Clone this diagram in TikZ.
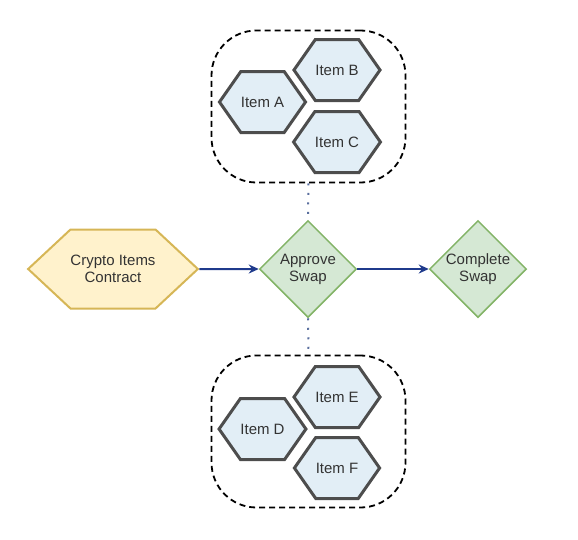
\documentclass[tikz,border=0pt]{standalone}
\usepackage{fontspec}
\setmainfont{Liberation Sans}
\usepackage{xcolor}
\usepackage{tikz}
\usetikzlibrary{arrows.meta,positioning,shapes.geometric,shapes.symbols}

\definecolor{contractfill}{HTML}{FFF2CC}
\definecolor{contractline}{HTML}{D6B656}
\definecolor{stepfill}{HTML}{D5E8D4}
\definecolor{stepline}{HTML}{82B366}
\definecolor{itemfill}{HTML}{E2EEF6}
\definecolor{itemline}{HTML}{4D4D4D}
\definecolor{flowline}{HTML}{1F3A8C}
\definecolor{linkline}{HTML}{5A6F9E}

\tikzset{
  hexnode/.style={signal, signal to=west and east, align=center, inner sep=0pt,
    font=\fontsize{15}{17}\selectfont, text=black!80},
  itemhex/.style={hexnode, signal pointer angle=110, minimum width=84, minimum height=61,
    fill=itemfill, draw=itemline, line width=3pt},
  swapstep/.style={diamond, aspect=1, minimum width=97, minimum height=97, inner sep=0pt,
    fill=stepfill, draw=stepline, line width=1.5pt, align=center,
    font=\fontsize{15}{17}\selectfont, text=black!80},
  itemgroup/.style={draw, dash pattern=on 6pt off 4pt, line width=1.8pt,
    rounded corners=45pt, minimum width=194, minimum height=152},
  flow/.style={-{Stealth[length=10pt,width=9pt]}, draw=flowline, line width=2pt},
  link/.style={draw=linkline, line width=2pt, dash pattern=on 2pt off 7.5pt}
}

\begin{document}
\begin{tikzpicture}[x=1pt,y=-1pt]
  \useasboundingbox (0,0) rectangle (578,539);
  % main flow
  \node[hexnode, signal pointer angle=86, minimum width=168, minimum height=79,
    fill=contractfill, draw=contractline, line width=2pt] (contract) at (113,269) {Crypto Items\\Contract};
  \node[swapstep] (approve) at (308,269) {Approve\\Swap};
  \node[swapstep] (complete) at (478,269) {Complete\\Swap};
  \draw[flow] (contract) -- (approve);
  \draw[flow] (approve) -- (complete);
  % upper group
  \node[itemgroup] (groupTop) at (308.5,106.5) {};
  \node[itemhex] (itemA) at (262.5,102) {Item A};
  \node[itemhex] (itemB) at (337,70) {Item B};
  \node[itemhex] (itemC) at (337,142) {Item C};
  \draw[link] (groupTop.south) -- (approve.north);
  % lower group
  \node[itemgroup] (groupBottom) at (308.5,431.5) {};
  \node[itemhex] (itemD) at (262.5,429) {Item D};
  \node[itemhex] (itemE) at (337,397) {Item E};
  \node[itemhex] (itemF) at (337,468) {Item F};
  \draw[link] (approve.south) -- (groupBottom.north);
\end{tikzpicture}
\end{document}
